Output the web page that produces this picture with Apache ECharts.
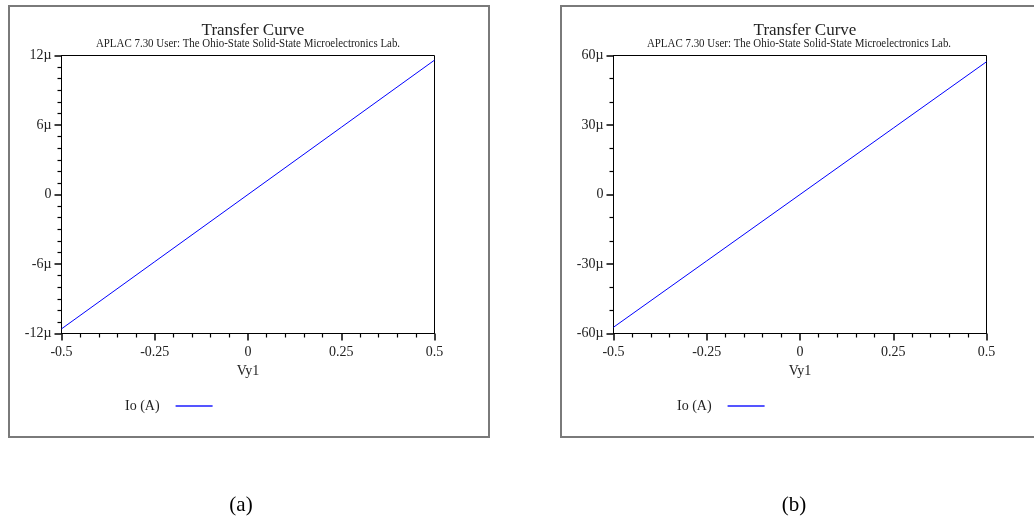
<!DOCTYPE html>
<html>
<head>
<meta charset="utf-8">
<script src="https://cdn.jsdelivr.net/npm/echarts@6/dist/echarts.min.js"></script>
<style>
html,body{margin:0;padding:0;background:#fff;}
#chart{width:1034px;height:521px;}
</style>
</head>
<body>
<div id="chart"></div>
<script>
// ---- data ----
const titleText = 'Transfer Curve';
const subtitleText = 'APLAC 7.30 User: The Ohio-State Solid-State Microelectronics Lab.';
const xAxisName = 'Vy1';
const seriesName = 'Io (A)';
const panelLabels = ['(a)', '(b)'];
const vy1 = [-0.5, -0.25, 0, 0.25, 0.5];
// Io in microamps
const ioA = [-11.6, -5.8, 0, 5.8, 11.6];
const ioB = [-57.3, -28.65, 0, 28.65, 57.3];
const yRangeA = [-12, 12, 6];   // min, max, interval (µ)
const yRangeB = [-60, 60, 30];

const FONT = '"Liberation Serif", "Times New Roman", serif';
const toPairs = (xs, ys) => xs.map((x, i) => [x, ys[i]]);
const yFmt = v => (v === 0 ? '0' : v + 'µ');

const chart = echarts.init(document.getElementById('chart'), null, {renderer: 'canvas'});

function xAxisCfg(gi) {
  return {
    type: 'value', gridIndex: gi, min: -0.5, max: 0.5, interval: 0.25,
    name: xAxisName, nameLocation: 'middle', nameGap: 31,
    nameTextStyle: {fontFamily: FONT, fontSize: 14, color: '#222'},
    axisLine: {show: true, onZero: false, lineStyle: {color: '#000', width: 1}},
    axisTick: {show: true, length: 7, lineStyle: {color: '#000', width: 1.5}},
    minorTick: {show: true, splitNumber: 5, length: 4, lineStyle: {color: '#000', width: 1.2}},
    axisLabel: {fontFamily: FONT, fontSize: 14, color: '#222', margin: 12},
    splitLine: {show: false}
  };
}
function yAxisCfg(gi, r, minorSplit) {
  return {
    type: 'value', gridIndex: gi, min: r[0], max: r[1], interval: r[2],
    axisLine: {show: true, onZero: false, lineStyle: {color: '#000', width: 1}},
    axisTick: {show: true, length: 7, lineStyle: {color: '#000', width: 1.5}},
    minorTick: {show: true, splitNumber: minorSplit, length: 4, lineStyle: {color: '#000', width: 1.2}},
    axisLabel: {fontFamily: FONT, fontSize: 14, color: '#222', margin: 10, formatter: yFmt},
    splitLine: {show: false}
  };
}
function legendCfg(left) {
  return {
    left: left, top: 394, orient: 'horizontal', align: 'right',
    icon: 'rect', itemWidth: 37, itemHeight: 2,
    data: [{name: seriesName, itemStyle: {color: '#5555ff'}}],
    textStyle: {fontFamily: FONT, fontSize: 14, color: '#222', padding: [0, 11, 0, 0]},
    selectedMode: false
  };
}

const option = {
  animation: false,
  backgroundColor: '#fff',
  title: [
    {text: titleText, left: 248, top: 17, textAlign: 'center',
     textStyle: {fontFamily: FONT, fontSize: 17, fontWeight: 'normal', color: '#222'}},
    {text: titleText, left: 800, top: 17, textAlign: 'center',
     textStyle: {fontFamily: FONT, fontSize: 17, fontWeight: 'normal', color: '#222'}}
  ],
  grid: [
    {left: 61.5, top: 55.5, width: 373, height: 278, show: true, borderColor: '#000', borderWidth: 1, backgroundColor: 'transparent'},
    {left: 613.5, top: 55.5, width: 373, height: 278, show: true, borderColor: '#000', borderWidth: 1, backgroundColor: 'transparent'}
  ],
  xAxis: [xAxisCfg(0), xAxisCfg(1)],
  yAxis: [yAxisCfg(0, yRangeA, 6), yAxisCfg(1, yRangeB, 3)],
  legend: [legendCfg(120), legendCfg(672)],
  series: [
    {name: seriesName, type: 'line', xAxisIndex: 0, yAxisIndex: 0, data: toPairs(vy1, ioA),
     showSymbol: false, lineStyle: {color: '#0000ff', width: 1}, itemStyle: {color: '#0000ff'}},
    {name: seriesName, type: 'line', xAxisIndex: 1, yAxisIndex: 1, data: toPairs(vy1, ioB),
     showSymbol: false, lineStyle: {color: '#0000ff', width: 1}, itemStyle: {color: '#0000ff'}}
  ],
  graphic: [
    {type: 'rect', shape: {x: 9, y: 6, width: 480, height: 431}, z: -1,
     style: {fill: 'none', stroke: '#7a7a7a', lineWidth: 2}},
    {type: 'rect', shape: {x: 561, y: 6, width: 490, height: 431}, z: -1,
     style: {fill: 'none', stroke: '#7a7a7a', lineWidth: 2}},
    {type: 'text', x: 248, y: 44, scaleX: 0.84,
     style: {text: subtitleText, font: '13px ' + FONT, fill: '#222', textAlign: 'center', textVerticalAlign: 'middle'}},
    {type: 'text', x: 799, y: 44, scaleX: 0.84,
     style: {text: subtitleText, font: '13px ' + FONT, fill: '#222', textAlign: 'center', textVerticalAlign: 'middle'}},
    {type: 'text', x: 241, y: 505,
     style: {text: panelLabels[0], font: '21px ' + FONT, fill: '#000', textAlign: 'center', textVerticalAlign: 'middle'}},
    {type: 'text', x: 794, y: 505,
     style: {text: panelLabels[1], font: '21px ' + FONT, fill: '#000', textAlign: 'center', textVerticalAlign: 'middle'}}
  ]
};
chart.setOption(option);
</script>
</body>
</html>
